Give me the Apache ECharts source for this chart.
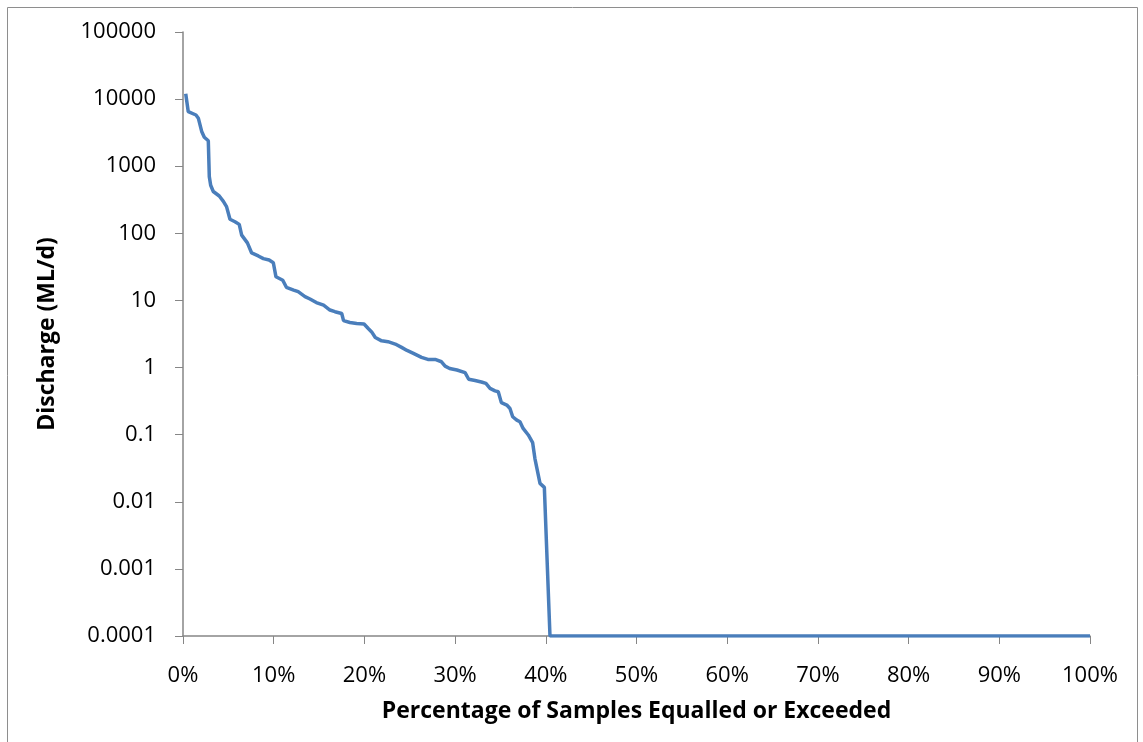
<!DOCTYPE html>
<html>
<head>
<meta charset="utf-8">
<script src="https://cdn.jsdelivr.net/npm/echarts@6/dist/echarts.min.js"></script>
<style>
  html, body { margin: 0; padding: 0; background: #fff; }
  #chart { width: 1143px; height: 742px; }
</style>
</head>
<body>
<div id="chart"></div>
<script>
// percentage of samples equalled or exceeded (%)
const exceedance = [
  0.3, 0.58, 1.43, 1.69, 2.06, 2.35, 2.79, 2.9, 3.05, 3.34,
  4.0, 4.45, 4.8, 5.18, 5.73, 6.2, 6.47, 7.1, 7.57, 8.3,
  8.86, 9.5, 9.96, 10.25, 11.0, 11.4, 12.2, 12.7, 13.45, 14.0,
  14.7, 15.5, 16.2, 16.75, 17.5, 17.7, 18.4, 19.15, 19.96, 20.4,
  20.8, 21.2, 21.9, 22.6, 23.4, 24.1, 24.7, 25.4, 26.3, 27.0,
  27.8, 28.5, 28.9, 29.4, 30.2, 31.1, 31.5, 32.2, 32.9, 33.4,
  33.85, 34.4, 34.76, 35.1, 35.7, 36.05, 36.35, 36.8, 37.15, 37.5,
  38.07, 38.55, 38.8, 39.36, 39.84, 40.46, 100
];

// discharge (ML/d)
const discharge = [
  12000, 6500, 5800, 5200, 3300, 2700, 2400, 700, 520, 420,
  360, 300, 250, 162, 149, 136, 94, 72, 51, 46,
  42, 40, 36.5, 22.5, 20, 15.7, 14.3, 13.5, 11.4, 10.5,
  9.3, 8.5, 7.2, 6.8, 6.4, 5.0, 4.7, 4.55, 4.45, 3.85,
  3.4, 2.8, 2.5, 2.43, 2.24, 2.0, 1.8, 1.63, 1.42, 1.32,
  1.32, 1.22, 1.05, 0.97, 0.92, 0.84, 0.67, 0.64, 0.61, 0.58,
  0.49, 0.45, 0.436, 0.3, 0.276, 0.246, 0.185, 0.165, 0.156, 0.124,
  0.099, 0.076, 0.044, 0.0188, 0.0164, 0.0001, 0.0001
];

const yTickLabels = ["0.0001", "0.001", "0.01", "0.1", "1", "10", "100", "1000", "10000", "100000"];

const chart = echarts.init(document.getElementById("chart"));

const axisGray = "#868686";
const font = "'Open Sans', sans-serif";

const option = {
  animation: false,
  grid: { left: 183, right: 53, top: 32, bottom: 106 },

  graphic: [
    {
      type: "rect",
      shape: { x: 7.5, y: 7.5, width: 1130, height: 780 },
      style: { fill: "none", stroke: "#8e8e8e", lineWidth: 1 },
      silent: true
    }
  ],

  xAxis: {
    type: "value",
    min: 0,
    max: 100,
    interval: 10,
    name: "Percentage of Samples Equalled or Exceeded",
    nameLocation: "middle",
    nameGap: 64,
    nameTextStyle: { color: "#000", fontFamily: font, fontSize: 23, fontWeight: "bold" },
    axisLine: { lineStyle: { color: axisGray, width: 1.5 } },
    axisTick: { length: 8, lineStyle: { color: axisGray } },
    axisLabel: {
      color: "#000",
      fontFamily: font,
      fontSize: 22,
      margin: 29,
      formatter: "{value}%"
    },
    splitLine: { show: false }
  },

  yAxis: {
    type: "log",
    logBase: 10,
    min: 0.0001,
    max: 100000,
    splitNumber: 9,
    name: "Discharge (ML/d)",
    nameLocation: "middle",
    nameGap: 124,
    nameTextStyle: { color: "#000", fontFamily: font, fontSize: 23, fontWeight: "bold" },
    axisLine: { show: true, lineStyle: { color: axisGray, width: 1.5 } },
    axisTick: { show: true, length: 8, lineStyle: { color: axisGray } },
    axisLabel: {
      color: "#000",
      fontFamily: font,
      fontSize: 22,
      margin: 27,
      formatter: function (v) {
        return yTickLabels[Math.round(Math.log10(v)) + 4];
      }
    },
    splitLine: { show: false }
  },

  series: [
    {
      type: "line",
      data: exceedance.map((x, i) => [x, discharge[i]]),
      showSymbol: false,
      lineStyle: { color: "#4a7ebb", width: 3.5 },
      itemStyle: { color: "#4a7ebb" }
    }
  ]
};

chart.setOption(option);
</script>
</body>
</html>
